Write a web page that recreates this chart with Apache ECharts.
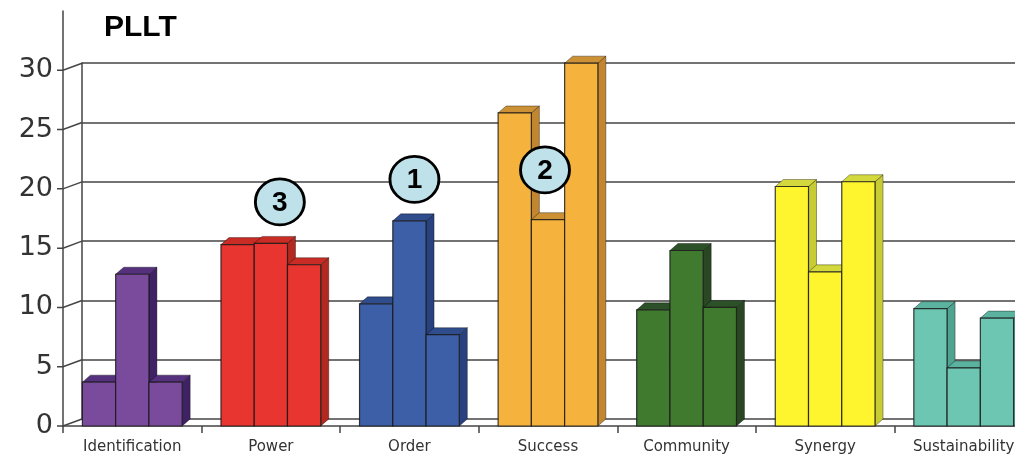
<!DOCTYPE html>
<html>
<head>
<meta charset="utf-8">
<script src="https://cdn.jsdelivr.net/npm/echarts@6/dist/echarts.min.js"></script>
<style>
  html, body { margin: 0; padding: 0; background: #ffffff; }
  #chart { width: 1015px; height: 457px; }
</style>
</head>
<body>
<div id="chart"></div>
<script>
// Categories and the three bars drawn in each group
const categories = ['Identification', 'Power', 'Order', 'Success', 'Community', 'Synergy', 'Sustainability'];
const barA = [3.7, 15.3, 10.3, 26.4, 9.8, 20.2, 9.9];
const barB = [12.8, 15.4, 17.3, 17.4, 14.8, 13.0, 4.9];
const barC = [3.7, 13.6, 7.7, 30.6, 10.0, 20.6, 9.1];
const yTicks = [0, 5, 10, 15, 20, 25, 30];

// Ranking badges above three of the groups
const badgeCats = ['Power', 'Order', 'Success'];
const badgeLevels = [18.9, 20.8, 21.6];
const badgeRanks = ['3', '1', '2'];
const badgeShift = [9, 5, -3];

// Face colours per group: front, top, side
const palette = [
  { front: '#7a4b9c', top: '#55307d', side: '#3f2266' },
  { front: '#e8352f', top: '#c92b25', side: '#b3281f' },
  { front: '#3c5fa8', top: '#2f4c8c', side: '#28417f' },
  { front: '#f5b23c', top: '#cc9035', side: '#c28630' },
  { front: '#3f7a2f', top: '#2c5128', side: '#284722' },
  { front: '#fff52e', top: '#d3d83c', side: '#c8cc33' },
  { front: '#6cc6b1', top: '#5bb39f', side: '#4fa391' }
];

const DX = 8, DY = -7;            // bar extrusion
const WALL_DX = 19, WALL_DY = -7; // back wall offset
const FONT = 'Liberation Sans, Arial, sans-serif';
const AXIS_FONT = 'DejaVu Sans, sans-serif';

const barRows = [];
[barA, barB, barC].forEach(function (vals, slot) {
  vals.forEach(function (v, i) { barRows.push([i, slot, v]); });
});
barRows.sort(function (a, b) { return a[0] - b[0] || a[1] - b[1]; });

function renderBar(params, api) {
  const cat = api.value(0), slot = api.value(1), v = api.value(2);
  const base = api.coord([cat, 0]);
  const top = api.coord([cat, v]);
  const band = api.size([1, 0])[0];
  const w = band * 0.24;
  const x0 = base[0] - 1.5 * w + slot * w;
  const x1 = x0 + w;
  const yb = base[1], yt = top[1];
  const c = palette[cat];
  return {
    type: 'group',
    children: [
      { type: 'polygon',
        shape: { points: [[x1, yb], [x1 + DX, yb + DY], [x1 + DX, yt + DY], [x1, yt]] },
        style: { fill: c.side, stroke: 'rgba(0,0,0,0.45)', lineWidth: 0.8 } },
      { type: 'polygon',
        shape: { points: [[x0, yt], [x0 + DX, yt + DY], [x1 + DX, yt + DY], [x1, yt]] },
        style: { fill: c.top, stroke: 'rgba(0,0,0,0.45)', lineWidth: 0.8 } },
      { type: 'rect',
        shape: { x: x0, y: yt, width: w, height: yb - yt },
        style: { fill: c.front, stroke: 'rgba(25,25,25,0.85)', lineWidth: 1.2 } }
    ]
  };
}

// Tick dash plus slanted link from the front axis to the back wall
function renderLink(params, api) {
  const p = api.coord([0, api.value(1)]);
  const x = params.coordSys.x;
  return {
    type: 'polyline',
    shape: { points: [[x - 6, p[1]], [x, p[1]], [x + WALL_DX, p[1] + WALL_DY]] },
    style: { stroke: '#444', lineWidth: 1.5, fill: null }
  };
}

const chart = echarts.init(document.getElementById('chart'));
chart.setOption({
  backgroundColor: '#ffffff',
  animation: false,
  title: {
    text: 'PLLT', left: 99, top: 8,
    textStyle: { fontFamily: FONT, fontSize: 30, fontWeight: 'bold', color: '#000' }
  },
  grid: [
    { left: 63, top: 11, width: 970, height: 415, containLabel: false, outerBoundsMode: 'none' },
    { left: 63 + WALL_DX, top: 11 + 415 - 356 + WALL_DY, width: 970, height: 356, containLabel: false, outerBoundsMode: 'none' }
  ],
  xAxis: [
    { type: 'category', gridIndex: 0, data: categories,
      axisLine: { lineStyle: { color: '#444', width: 1.5 } },
      axisTick: { show: true, length: 7, interval: 0, lineStyle: { color: '#444', width: 1.5 } },
      axisLabel: { interval: 0, margin: 14, fontFamily: AXIS_FONT, fontSize: 15, color: '#333' } },
    { type: 'category', gridIndex: 1, data: categories, show: false }
  ],
  yAxis: [
    { type: 'value', gridIndex: 0, min: 0, max: 35, interval: 5,
      axisLine: { show: true, lineStyle: { color: '#444', width: 1.5 } },
      axisTick: { show: false },
      splitLine: { show: false },
      axisLabel: { margin: 10, fontFamily: AXIS_FONT, fontSize: 27, color: '#333',
        formatter: function (v) { return v > 30 ? '' : String(v); } } },
    { type: 'value', gridIndex: 1, min: 0, max: 30, interval: 5,
      axisLine: { show: true, lineStyle: { color: '#444', width: 1.5 } },
      axisTick: { show: false },
      axisLabel: { show: false },
      splitLine: { show: true, lineStyle: { color: '#444', width: 1.5 } } }
  ],
  series: [
    { type: 'custom', xAxisIndex: 0, yAxisIndex: 0, z: 1,
      data: yTicks.map(function (v) { return [0, v]; }),
      encode: { x: 0, y: 1 }, renderItem: renderLink, silent: true },
    { type: 'custom', xAxisIndex: 0, yAxisIndex: 0, z: 3,
      data: barRows, encode: { x: 0, y: 2 }, renderItem: renderBar },
    { type: 'scatter', xAxisIndex: 0, yAxisIndex: 0, z: 5,
      data: badgeCats.map(function (c, i) {
        return { value: [c, badgeLevels[i]], rank: badgeRanks[i], symbolOffset: [badgeShift[i], 0] };
      }),
      symbol: 'circle', symbolSize: [49, 46],
      itemStyle: { color: '#bfe1ea', borderColor: '#000', borderWidth: 2.8, opacity: 1 },
      label: { show: true, position: 'inside', offset: [0, 1],
        formatter: function (p) { return p.data.rank; },
        fontFamily: FONT, fontSize: 28, fontWeight: 'bold', color: '#000' } }
  ]
});
</script>
</body>
</html>
